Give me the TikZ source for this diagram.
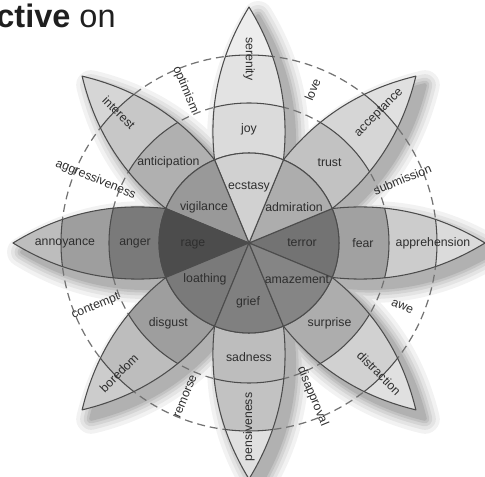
\documentclass[tikz,border=0pt]{standalone}
\usepackage{fontspec}
\setmainfont{Liberation Sans}

\definecolor{linec}{gray}{0.30}
\definecolor{dashc}{gray}{0.45}
\definecolor{txtc}{gray}{0.18}

\tikzset{
  lbl/.style={font=\fontsize{7}{8}\selectfont, text=txtc, inner sep=0.5pt},
  ring/.style={draw=dashc, line width=0.7pt, dash pattern=on 4.5pt off 2.8pt},
  edge/.style={draw=linec, line width=0.6pt, line join=round}
}

\begin{document}
\begin{tikzpicture}[x=0.02cm, y=0.02cm]
  % one unit = one pixel of the 485x477 frame, centre of the wheel at the origin
  \useasboundingbox (-249,-234) rectangle (236,243);

  % soft shadow of the whole flower, pushed down and right
  \foreach \w/\o in {30/0.05, 22/0.06, 15/0.07, 9/0.08, 4/0.09} {
    \begin{scope}[transparency group, opacity=\o, shift={(9,-9)}]
      \foreach \a in {0,45,...,315}
        \filldraw[black, line width=\w*0.567pt, line join=round, rotate=\a]
          (22.5:90) .. controls (150,42) and (200,22) .. (236,0)
          .. controls (200,-22) and (150,-42) .. (-22.5:90)
          arc[start angle=-22.5, end angle=22.5, radius=90];
      \filldraw[black, line width=\w*0.567pt] (0,0) circle[radius=90];
    \end{scope}
  }

  % dashed rings between the petals
  \draw[ring] (0,0) circle[radius=140];
  \draw[ring] (0,0) circle[radius=188];

  % petals: angle / tip / outer band / middle band / inner wedge (percent black)
  \foreach \a/\tp/\ou/\md/\inn in {0/14/20/37/55, 45/12/16/24/32, 90/7/11/14/18,
      135/16/22/31/40, 180/26/38/52/70, 225/20/26/38/52, 270/12/24/26/50, 315/12/18/32/48} {
    \begin{scope}[rotate=\a]
      \begin{scope}
        \clip (22.5:90) .. controls (150,42) and (200,22) .. (236,0)
          .. controls (200,-22) and (150,-42) .. (-22.5:90)
          arc[start angle=-22.5, end angle=22.5, radius=90];
        \fill[black!\tp] (0,0) circle[radius=240];
        \fill[black!\ou] (0,0) circle[radius=188];
        \fill[black!\md] (0,0) circle[radius=140];
        \draw[edge] (0,0) circle[radius=140] circle[radius=188];
      \end{scope}
      \draw[edge] (22.5:90) .. controls (150,42) and (200,22) .. (236,0)
        .. controls (200,-22) and (150,-42) .. (-22.5:90)
        arc[start angle=-22.5, end angle=22.5, radius=90];
      % inner wedge
      \filldraw[edge, fill=black!\inn] (0,0) -- (-22.5:90)
        arc[start angle=-22.5, end angle=22.5, radius=90] -- cycle;
    \end{scope}
  }

  % mild emotions near the tips
  \foreach \n/\a/\r in {serenity/90/-90, acceptance/45/45, apprehension/0/0,
      distraction/-45/-45, pensiveness/-90/90, boredom/-135/45,
      annoyance/180/0, interest/135/-45}
    \node[lbl, rotate=\r] (\n) at (\a:184) {\n};

  % basic emotions
  \foreach \n/\a in {joy/90, trust/45, fear/0, surprise/-45,
      sadness/-90, disgust/-135, anger/180, anticipation/135}
    \node[lbl] (\n) at (\a:114) {\n};

  % intense emotions in the centre
  \node[lbl] (ecstasy)    at (0,56)    {ecstasy};
  \node[lbl] (admiration) at (45,36)   {admiration};
  \node[lbl] (terror)     at (53,0)    {terror};
  \node[lbl] (amazement)  at (48,-37)  {amazement};
  \node[lbl] (grief)      at (-1,-59)  {grief};
  \node[lbl] (loathing)   at (-44,-36) {loathing};
  \node[lbl] (rage)       at (-56,-1)  {rage};
  \node[lbl] (vigilance)  at (-45,36)  {vigilance};

  % dyads between the petals
  \foreach \n/\a/\r in {optimism/112.5/-67.5, love/67.5/67.5, submission/22.5/22.5,
      awe/-22.5/-22.5, disapproval/-67.5/-67.5, remorse/-112.5/67.5,
      contempt/-157.5/22.5, aggressiveness/157.5/-22.5}
    \node[lbl, rotate=\r] (\n) at (\a:166) {\n};

  % title fragment, cut at the left edge
  \node[anchor=base east, inner sep=0, text=black!88,
    font=\fontsize{18.5}{20}\selectfont] (title) at (-133,215) {\textbf{ctive} on};
\end{tikzpicture}
\end{document}
